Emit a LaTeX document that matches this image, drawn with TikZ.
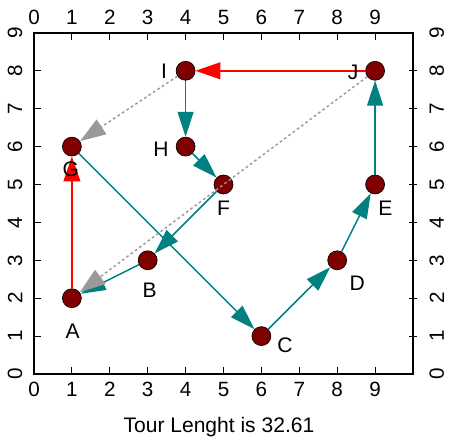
\documentclass[tikz,border=0pt]{standalone}
\usepackage{fontspec}
\setmainfont{Liberation Sans}
\usetikzlibrary{arrows.meta}

\definecolor{tourteal}{RGB}{0,128,128}
\definecolor{cityred}{RGB}{128,0,0}
\definecolor{skipgray}{RGB}{153,153,153}

\begin{document}
\begin{tikzpicture}[
  x=1cm, y=1cm,
  city/.style={
    circle,
    draw=black,
    fill=cityred,
    line width=0.5pt,
    minimum size=0.5cm,
    inner sep=0pt
  },
  lbl/.style={
    font=\fontsize{15.8}{18}\selectfont,
    inner sep=0pt
  },
  tick/.style={
    font=\fontsize{15.5}{18}\selectfont,
    inner sep=0pt
  },
  arrow/.style={
    tourteal,
    line width=1.1pt,
    -{Triangle[length=0.66cm, width=0.42cm]}
  },
  redarrow/.style={
    red,
    line width=1.5pt,
    -{Triangle[length=0.66cm, width=0.44cm]}
  },
  skip/.style={
    skipgray,
    line width=1.1pt,
    dash pattern=on 2pt off 2pt,
    -{Triangle[length=0.68cm, width=0.46cm]}
  }
]
\useasboundingbox (-0.897,-1.794) rectangle (11.003,9.868);

% --------------------
% Frame and ticks
% --------------------
\draw[line width=1.1pt] (0,0) rectangle (10,9);
\foreach \i in {1,...,9} {
  \draw[line width=0.8pt] (\i,0) -- (\i,0.18);
  \draw[line width=0.8pt] (\i,9) -- (\i,8.82);
}
\foreach \i in {1,...,8} {
  \draw[line width=0.8pt] (0,\i) -- (0.18,\i);
  \draw[line width=0.8pt] (9.9,\i) -- (10.1,\i);
}
\foreach \i in {0,...,9} {
  \node[tick] (bx\i) at (\i,-0.40) {\i};
  \node[tick] (tx\i) at (\i,9.40) {\i};
  \node[tick, rotate=90] (ly\i) at (-0.50,\i) {\i};
  \node[tick, rotate=90] (ry\i) at (10.63,\i) {\i};
}

% --------------------
% Cities
% --------------------
\node[city] (A) at (1,2) {};
\node[city] (B) at (3,3) {};
\node[city] (C) at (6,1) {};
\node[city] (D) at (8,3) {};
\node[city] (E) at (9,5) {};
\node[city] (F) at (5,5) {};
\node[city] (G) at (1,6) {};
\node[city] (H) at (4,6) {};
\node[city] (I) at (4,8) {};
\node[city] (J) at (9,8) {};

% --------------------
% Tour
% --------------------
\draw[redarrow] (A) -- (G);
\draw[arrow] (G) -- (C);
\draw[arrow] (C) -- (D);
\draw[arrow] (D) -- (E);
\draw[arrow] (E) -- (J);
\draw[redarrow] (J) -- (I);
\draw[arrow] (I) -- (H);
\draw[arrow] (H) -- (F);
\draw[arrow] (F) -- (B);
\draw[arrow] (B) -- (A);
\draw[skip] (I) -- (G);
\draw[skip] (J) -- (A);

% --------------------
% Labels
% --------------------
\node[lbl] (A-l) at ([shift={(0.02,-0.86)}]A) {A};
\node[lbl] (B-l) at ([shift={(0.05,-0.79)}]B) {B};
\node[lbl] (C-l) at ([shift={(0.62,-0.25)}]C) {C};
\node[lbl] (D-l) at ([shift={(0.53,-0.61)}]D) {D};
\node[lbl] (E-l) at ([shift={(0.27,-0.64)}]E) {E};
\node[lbl] (F-l) at ([shift={(0,-0.62)}]F) {F};
\node[lbl] (G-l) at ([shift={(-0.03,-0.6)}]G) {G};
\node[lbl] (H-l) at ([shift={(-0.65,-0.06)}]H) {H};
\node[lbl] (I-l) at ([shift={(-0.57,0)}]I) {I};
\node[lbl] (J-l) at ([shift={(-0.58,-0.04)}]J) {J};

\node[lbl] (title) at (4.88,-1.40) {Tour Lenght is 32.61};

\end{tikzpicture}
\end{document}
